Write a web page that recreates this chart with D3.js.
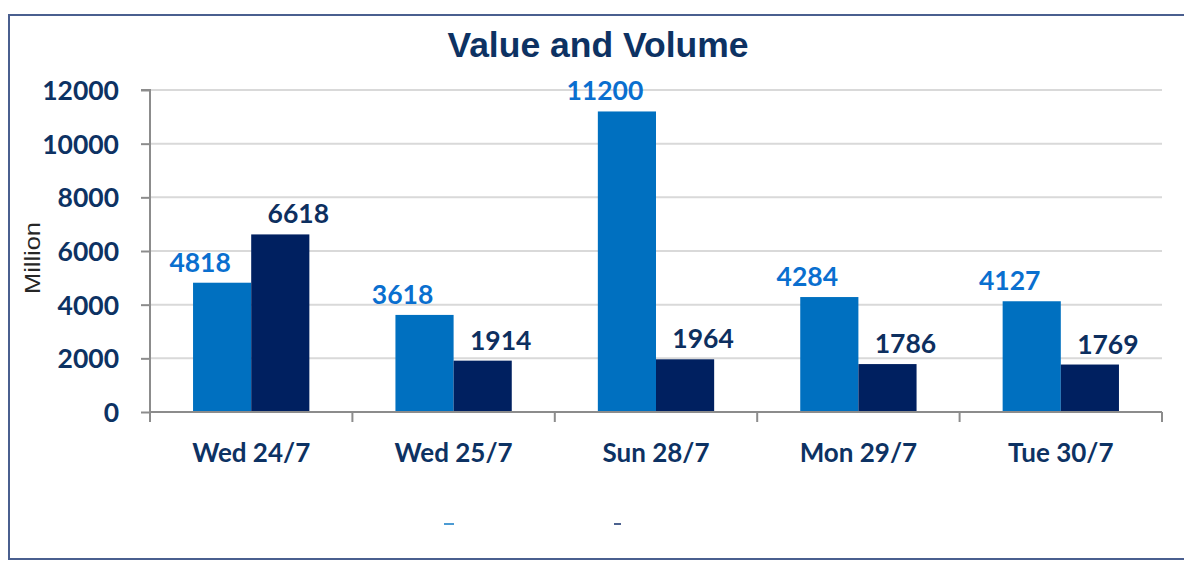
<!DOCTYPE html>
<html>
<head>
<meta charset="utf-8">
<script src="https://cdn.jsdelivr.net/npm/d3@7"></script>
<style>
  body { margin: 0; background: #fff; }
  text { font-family: Lato, "Open Sans", sans-serif; }
</style>
</head>
<body>
<div id="container"></div>
<script>
/* DATA */
const days = ["Wed 24/7", "Wed 25/7", "Sun 28/7", "Mon 29/7", "Tue 30/7"];
const seriesNames = ["Value", "Volume"];
const valueSeries = [4818, 3618, 11200, 4284, 4127];
const volumeSeries = [6618, 1914, 1964, 1786, 1769];
const yTicks = [0, 2000, 4000, 6000, 8000, 10000, 12000];

/* CONSTANTS */
const width = 1184;
const height = 561;
const margin = { top: 90, right: 22, bottom: 149, left: 150 };
const colors = ["#0070c0", "#002060"];
const labelColors = ["#0a6fcf", "#0d2f5f"];
const textColor = "#0d3263";

const svg = d3.select("#container")
  .append("svg")
  .attr("width", width)
  .attr("height", height);

// chart border
svg.append("rect")
  .attr("x", 9)
  .attr("y", 15)
  .attr("width", 1200)
  .attr("height", 544)
  .attr("fill", "none")
  .attr("stroke", "#4a5f8f")
  .attr("stroke-width", 2);

/* SCALES */
const xScale = d3.scaleBand()
  .domain(days)
  .range([margin.left, width - margin.right]);

const xInner = d3.scaleBand()
  .domain(seriesNames)
  .range([0, xScale.bandwidth()])
  .paddingOuter(0.74);

const yScale = d3.scaleLinear()
  .domain([0, 12000])
  .range([height - margin.bottom, margin.top]);

// gridlines
svg.append("g")
  .selectAll("line")
  .data(yTicks.slice(1))
  .join("line")
  .attr("x1", margin.left)
  .attr("x2", width - margin.right)
  .attr("y1", d => yScale(d))
  .attr("y2", d => yScale(d))
  .attr("stroke", "#d9d9d9")
  .attr("stroke-width", 2);

/* BARS */
const rows = days.map((d, i) => ({ day: d, values: [valueSeries[i], volumeSeries[i]] }));

const groups = svg.selectAll("g.day")
  .data(rows)
  .join("g")
  .attr("class", "day")
  .attr("transform", d => `translate(${xScale(d.day)},0)`);

groups.selectAll("rect")
  .data(d => d.values.map((v, j) => ({ key: seriesNames[j], v, j })))
  .join("rect")
  .attr("x", d => xInner(d.key))
  .attr("y", d => yScale(d.v))
  .attr("width", xInner.bandwidth())
  .attr("height", d => yScale(0) - yScale(d.v))
  .attr("fill", d => colors[d.j]);

// value labels (offset a bit like the original)
const labelShift = [-22, 18];
groups.selectAll("text.lbl")
  .data(d => d.values.map((v, j) => ({ key: seriesNames[j], v, j })))
  .join("text")
  .attr("class", "lbl")
  .attr("x", d => xInner(d.key) + xInner.bandwidth() / 2 + labelShift[d.j])
  .attr("y", d => yScale(d.v) - 11)
  .attr("text-anchor", "middle")
  .attr("font-size", 26.5)
  .attr("font-weight", 700)
  .attr("fill", d => labelColors[d.j])
  .text(d => d.v);

/* AXES */
const yAxis = d3.axisLeft(yScale).tickValues(yTicks).tickSize(9).tickPadding(22).tickFormat(d => d);
const yG = svg.append("g")
  .attr("transform", `translate(${margin.left},0)`)
  .call(yAxis);
yG.selectAll("line, path").attr("stroke", "#8c8c8c").attr("stroke-width", 2);
yG.select("path").attr("d", `M-9,${yScale(12000)}H0V${yScale(0)}`);
yG.selectAll("text")
  .attr("font-size", 26.5)
  .attr("font-weight", 700)
  .attr("fill", textColor)
  .attr("dy", "0.36em");

const xAxis = d3.axisBottom(xScale).tickSize(0).tickPadding(32);
const xG = svg.append("g")
  .attr("transform", `translate(0,${yScale(0)})`)
  .call(xAxis);
xG.select("path").attr("stroke", "#8c8c8c").attr("stroke-width", 2)
  .attr("d", `M${margin.left},0H${width - margin.right}`);
xG.selectAll("text")
  .attr("font-size", 26)
  .attr("font-weight", 700)
  .attr("fill", textColor);

// category separator ticks
xG.selectAll("line.sep")
  .data(d3.range(days.length + 1))
  .join("line")
  .attr("class", "sep")
  .attr("x1", i => margin.left + i * xScale.step())
  .attr("x2", i => margin.left + i * xScale.step())
  .attr("y1", 0)
  .attr("y2", 10)
  .attr("stroke", "#8c8c8c")
  .attr("stroke-width", 2);

/* TITLES */
svg.append("text")
  .attr("x", 598)
  .attr("y", 57)
  .attr("text-anchor", "middle")
  .attr("font-size", 35.5)
  .attr("font-weight", 700)
  .attr("fill", textColor)
  .style("font-family", "'Liberation Sans', Arial, sans-serif")
  .text("Value and Volume");

svg.append("text")
  .attr("transform", "translate(40,258) rotate(-90)")
  .attr("text-anchor", "middle")
  .attr("font-size", 22)
  .attr("textLength", 72)
  .attr("lengthAdjust", "spacingAndGlyphs")
  .attr("fill", "#262626")
  .style("font-family", "'Liberation Sans', Arial, sans-serif")
  .text("Million");

// squashed legend remnants
svg.selectAll("rect.leg")
  .data(seriesNames)
  .join("rect")
  .attr("class", "leg")
  .attr("x", (d, i) => [444, 614][i])
  .attr("y", 523)
  .attr("width", (d, i) => [10, 7][i])
  .attr("height", 2)
  .attr("fill", (d, i) => colors[i])
  .attr("opacity", 0.7);
</script>
</body>
</html>
